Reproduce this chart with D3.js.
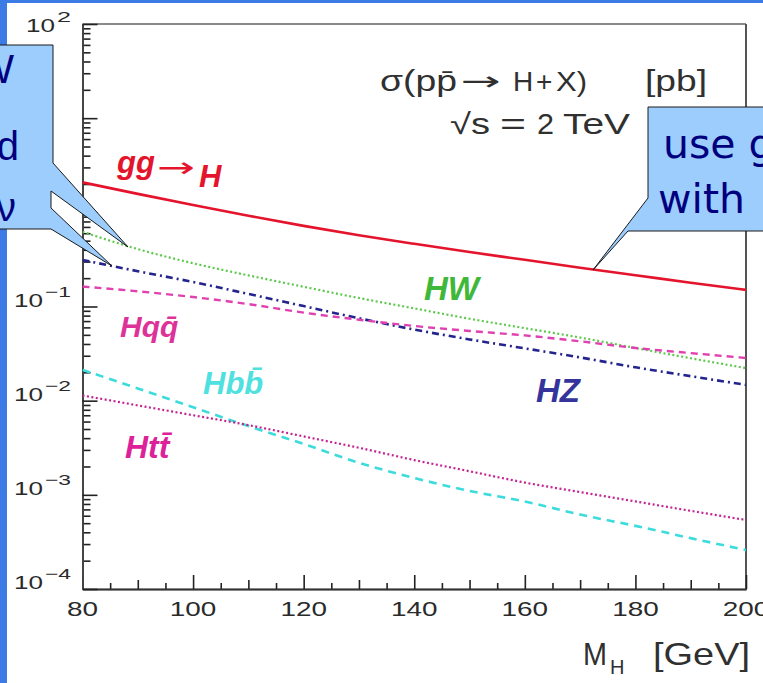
<!DOCTYPE html>
<html><head><meta charset="utf-8">
<script src="https://cdn.jsdelivr.net/npm/d3@7"></script>
<style>html,body{margin:0;padding:0;background:#fff;overflow:hidden} svg{display:block}</style>
</head><body>
<svg id="c" width="763" height="683"></svg>
<script>
// ---- data ----
const massGeV   = [80, 90, 100, 110, 120, 130, 140, 150, 160, 170, 180, 190, 200];
const sigmaGGH  = [2.08, 1.57, 1.197, 0.920, 0.718, 0.571, 0.463, 0.379, 0.313, 0.258, 0.215, 0.179, 0.150];
const sigmaHW   = [0.622, 0.407, 0.288, 0.214, 0.162, 0.123, 0.0955, 0.0741, 0.0589, 0.0468, 0.0363, 0.0282, 0.0222];
const sigmaHZ   = [0.312, 0.237, 0.182, 0.136, 0.101, 0.0750, 0.0569, 0.0447, 0.0359, 0.0288, 0.0226, 0.0182, 0.0147];
const sigmaHqq  = [0.163, 0.145, 0.126, 0.106, 0.0861, 0.0724, 0.0621, 0.0550, 0.0493, 0.0427, 0.0363, 0.0320, 0.0284];
const sigmaHbb  = [0.0212, 0.0135, 0.00851, 0.00537, 0.00347, 0.00219, 0.00151, 0.00110, 0.000851, 0.000617, 0.000468, 0.000347, 0.000259];
const sigmaHtt  = [0.01135, 0.00891, 0.00700, 0.00550, 0.00417, 0.00316, 0.00234, 0.00178, 0.00135, 0.00107, 0.000851, 0.000676, 0.000541];
const xTickLabels = [80, 100, 120, 140, 160, 180, 200];
const yLabelExponents = [2, -1, -2, -3, -4];
const seriesNames = ["gg\u2192H", "HW", "HZ", "Hqq\u0304", "Hbb\u0304", "Htt\u0304"];

// ---- styles ----
const styles = [
  {data: sigmaGGH, color: "#e4142c", width: 2.6, dash: null},
  {data: sigmaHW,  color: "#5cc84c", width: 2.2, dash: "2,2.5"},
  {data: sigmaHZ,  color: "#24248e", width: 2.6, dash: "7,4,2,4"},
  {data: sigmaHqq, color: "#e040b0", width: 2.4, dash: "7,5"},
  {data: sigmaHbb, color: "#3cdcdc", width: 2.6, dash: "8,6"},
  {data: sigmaHtt, color: "#c42492", width: 2.2, dash: "2,2.5"}
];

const svg = d3.select("#c");
// slide background
svg.append("rect").attr("width", 763).attr("height", 683).attr("fill", "#3b7be3");
svg.append("rect").attr("x", 7).attr("y", 3).attr("width", 760).attr("height", 690).attr("fill", "#ffffff");

const x = d3.scaleLinear().domain([80, 200]).range([82.5, 746]);
const y = d3.scaleLog().domain([1e-4, 1e2]).range([589, 24]);

const sans = "'Liberation Sans', Arial, Helvetica, sans-serif";
const dejavu = "'DejaVu Sans', Verdana, sans-serif";

// frame (top and right)
svg.append("line").attr("x1", x(80)).attr("x2", x(200)).attr("y1", y(1e2)).attr("y2", y(1e2))
  .attr("stroke", "#8a8a8a").attr("stroke-width", 2);
svg.append("line").attr("x1", x(200)).attr("x2", x(200)).attr("y1", y(1e2)).attr("y2", y(1e-4))
  .attr("stroke", "#555").attr("stroke-width", 2);

// x axis ticks (inside)
const gx = svg.append("g").attr("transform", `translate(0,${y(1e-4)})`);
function xTicks(vals, size) {
  const g = gx.append("g").call(d3.axisBottom(x).tickValues(vals).tickSize(-size).tickSizeOuter(0).tickFormat(""));
  g.select(".domain").attr("stroke", "#333").attr("stroke-width", 1.6);
  g.selectAll(".tick line").attr("stroke", "#222").attr("stroke-width", 1.6);
  g.selectAll("text").remove();
}
xTicks(d3.range(85, 200, 5).filter(v => v % 10 !== 0), 6);
xTicks(d3.range(90, 200, 20), 9);
xTicks(xTickLabels, 14);

// y axis ticks (inside)
const gy = svg.append("g").attr("transform", `translate(${x(80)},0)`);
const decades = d3.range(-4, 3).map(e => Math.pow(10, e));
const minors = [];
decades.slice(0, -1).forEach(d => { for (let k = 2; k <= 9; k++) minors.push(d * k); });
function yTicks(vals, size) {
  const g = gy.append("g").call(d3.axisLeft(y).tickValues(vals).tickSize(-size).tickSizeOuter(0).tickFormat(""));
  g.select(".domain").attr("stroke", "#444").attr("stroke-width", 1.8);
  g.selectAll(".tick line").attr("stroke", "#222").attr("stroke-width", 1.6);
  g.selectAll("text").remove();
}
yTicks(minors, 8);
yTicks(decades, 15);

// x tick labels
svg.append("g").selectAll("text").data(xTickLabels).join("text")
  .attr("x", d => x(d) - (String(d).length * 15.5) / 2)
  .attr("y", 616)
  .attr("textLength", d => String(d).length * 15.5)
  .attr("lengthAdjust", "spacingAndGlyphs")
  .attr("font-family", sans).attr("font-size", 21).attr("fill", "#2a2a2a")
  .text(d => d);

// y tick labels 10^e
const yl = svg.append("g");
yLabelExponents.forEach(e => {
  const base = Math.max(y(Math.pow(10, e)), 32);
  const supTxt = e < 0 ? "\u2212" + Math.abs(e) : String(e);
  const supW = e < 0 ? 26 : 14;
  const right = 71;
  yl.append("text").attr("x", right - supW - 31).attr("y", base)
    .attr("textLength", 29).attr("lengthAdjust", "spacingAndGlyphs")
    .attr("font-family", sans).attr("font-size", 18).attr("fill", "#2a2a2a").text("10");
  yl.append("text").attr("x", right - supW).attr("y", base - 10)
    .attr("textLength", supW).attr("lengthAdjust", "spacingAndGlyphs")
    .attr("font-family", sans).attr("font-size", 15).attr("fill", "#2a2a2a").text(supTxt);
});

// curves
svg.append("clipPath").attr("id", "pc").append("rect")
  .attr("x", x(80)).attr("y", y(1e2)).attr("width", x(200) - x(80)).attr("height", y(1e-4) - y(1e2));
const line = d3.line().x((d, i) => x(massGeV[i])).y(d => y(d)).curve(d3.curveMonotoneX);
const gc = svg.append("g").attr("clip-path", "url(#pc)");
styles.forEach(s => {
  gc.append("path").attr("d", line(s.data)).attr("fill", "none")
    .attr("stroke", s.color).attr("stroke-width", s.width)
    .attr("stroke-dasharray", s.dash).attr("stroke-linecap", "butt");
});

// curve labels
const lab = svg.append("g").attr("font-family", sans).attr("font-style", "italic").attr("font-weight", "bold");
const gg = lab.append("g").attr("fill", "#e4142c");
gg.append("text").attr("x", 117).attr("y", 173).attr("font-size", 31).text("gg");
gg.append("text").attr("x", 157).attr("y", 177).attr("font-family", dejavu).attr("font-style", "normal")
  .attr("font-weight", "normal").attr("font-size", 28).attr("textLength", 38)
  .attr("lengthAdjust", "spacingAndGlyphs").text("\u2192");
gg.append("text").attr("x", 199).attr("y", 187).attr("font-size", 31).text("H");
lab.append("text").attr("x", 424).attr("y", 300).attr("font-size", 33).attr("fill", "#3fb83a").text(seriesNames[1]);
lab.append("text").attr("x", 536).attr("y", 402).attr("font-size", 33).attr("fill", "#34349c").text(seriesNames[2]);
lab.append("text").attr("x", 120).attr("y", 337).attr("font-size", 30).attr("fill", "#dd3399").text(seriesNames[3]);
lab.append("text").attr("x", 203).attr("y", 394).attr("font-size", 31).attr("fill", "#4fe0e0").text(seriesNames[4]);
lab.append("text").attr("x", 125).attr("y", 458).attr("font-size", 32).attr("fill", "#dd2299").text(seriesNames[5]);

// title (pieces placed as in the reference)
const tt = svg.append("g").attr("font-family", sans).attr("fill", "#303030").attr("font-size", 29);
tt.append("text").attr("x", 380).attr("y", 91).attr("textLength", 77).attr("lengthAdjust", "spacingAndGlyphs")
  .text("\u03c3(pp\u0304");
tt.append("text").attr("x", 461).attr("y", 90).attr("font-family", dejavu).attr("font-size", 26)
  .attr("textLength", 40).attr("lengthAdjust", "spacingAndGlyphs").text("\u2192");
tt.append("text").attr("x", 513).attr("y", 91).attr("font-size", 28).text("H");
tt.append("text").attr("x", 536).attr("y", 91).attr("font-size", 28).text("+");
tt.append("text").attr("x", 556).attr("y", 91).attr("font-size", 28).attr("textLength", 31)
  .attr("lengthAdjust", "spacingAndGlyphs").text("X)");
tt.append("text").attr("x", 645).attr("y", 91).attr("textLength", 62).attr("lengthAdjust", "spacingAndGlyphs").text("[pb]");
tt.append("text").attr("x", 450).attr("y", 134).attr("textLength", 40).attr("lengthAdjust", "spacingAndGlyphs").text("\u221as");
tt.append("text").attr("x", 500).attr("y", 134).attr("textLength", 26).attr("lengthAdjust", "spacingAndGlyphs").text("=");
tt.append("text").attr("x", 537).attr("y", 134).attr("textLength", 17).attr("lengthAdjust", "spacingAndGlyphs").text("2");
tt.append("text").attr("x", 563).attr("y", 134).attr("textLength", 67).attr("lengthAdjust", "spacingAndGlyphs").text("TeV");

// x axis title
const xt = svg.append("g").attr("font-family", sans).attr("fill", "#303030");
xt.append("text").attr("x", 583).attr("y", 665).attr("font-size", 32).attr("textLength", 24)
  .attr("lengthAdjust", "spacingAndGlyphs").text("M");
xt.append("text").attr("x", 610).attr("y", 674).attr("font-size", 20).text("H");
xt.append("text").attr("x", 653).attr("y", 665).attr("font-size", 32).attr("textLength", 97)
  .attr("lengthAdjust", "spacingAndGlyphs").text("[GeV]");

// callouts (slide overlay)
const co = svg.append("g");
co.append("path")
  .attr("d", "M-5,45 H53 V163 L128,247 L51,191 V208 L112,266 L51,229 H-5 Z")
  .attr("fill", "#9ccdfd").attr("stroke", "#1a1a1a").attr("stroke-width", 1);
co.append("path")
  .attr("d", "M648,107 H770 V231 H628 L593,270 L648,198 Z")
  .attr("fill", "#9ccdfd").attr("stroke", "#1a1a1a").attr("stroke-width", 1);
const ct = co.append("g").attr("fill", "#00007f");
ct.append("text").attr("x", 14).attr("y", 83).attr("text-anchor", "end").attr("font-family", sans).attr("font-size", 40).text("W");
ct.append("text").attr("x", 19).attr("y", 160).attr("text-anchor", "end").attr("font-family", sans).attr("font-size", 40).text("and");
ct.append("text").attr("x", 16).attr("y", 221).attr("text-anchor", "end").attr("font-family", sans).attr("font-size", 40).text("\u2113\u03bd");
ct.append("text").attr("x", 663).attr("y", 158).attr("font-family", dejavu).attr("font-size", 41).text("use gg");
ct.append("text").attr("x", 658).attr("y", 213).attr("font-family", dejavu).attr("font-size", 41).text("with");
</script>
</body></html>
